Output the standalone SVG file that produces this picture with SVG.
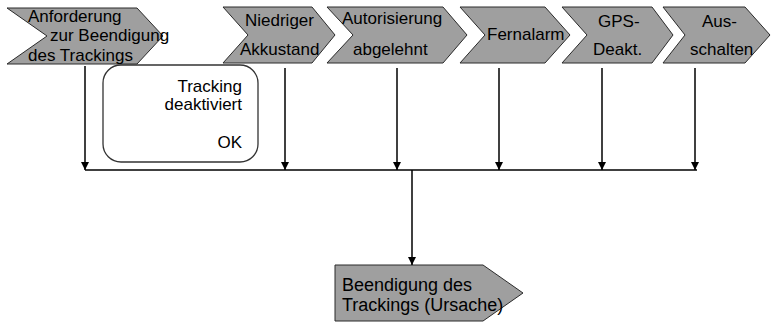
<svg xmlns="http://www.w3.org/2000/svg" width="772" height="323" viewBox="0 0 772 323">
<defs>
<style>
.chev{fill:#9f9f9f;stroke:#2a2a2a;stroke-width:1}
.t{font-family:"Liberation Sans",Arial,sans-serif;font-size:17px;fill:#000}
.b{font-size:18px}
.e{text-anchor:end}
.ln{stroke:#000;stroke-width:1.5;fill:none}
</style>
<marker id="ah" viewBox="0 0 10 10" refX="10" refY="5" markerWidth="9" markerHeight="8" markerUnits="userSpaceOnUse" orient="auto">
<path d="M0,0 L10,5 L0,10 Z" fill="#000"/>
</marker>
</defs>
<rect width="772" height="323" fill="#fff"/>
<g id="n1">
<polygon class="chev" points="7,8 137,8 163,36 137,64 7,64 47,36"/>
<text class="t" x="28" y="22">Anforderung</text>
<text class="t" x="50" y="41">zur Beendigung</text>
<text class="t" x="28" y="61">des Trackings</text>
</g>
<g id="n2">
<polygon class="chev" points="223,7 312,7 335,35 312,63 223,63 248,35"/>
<text class="t" x="245" y="26">Niedriger</text>
<text class="t" x="240" y="55">Akkustand</text>
</g>
<g id="n3">
<polygon class="chev" points="327,7 443,7 467,35 443,63 327,63 353,35"/>
<text class="t" x="342" y="24">Autorisierung</text>
<text class="t" x="353" y="55">abgelehnt</text>
</g>
<g id="n4">
<polygon class="chev" points="460,7 545,7 570,35 545,63 460,63 485,35"/>
<text class="t" x="487" y="40">Fernalarm</text>
</g>
<g id="n5">
<polygon class="chev" points="562,7 652,7 673,35 652,63 562,63 587,35"/>
<text class="t" x="598" y="27">GPS-</text>
<text class="t" x="593" y="55">Deakt.</text>
</g>
<g id="n6">
<polygon class="chev" points="663,7 745,7 770,35 745,63 663,63 685,35"/>
<text class="t" x="702" y="27">Aus-</text>
<text class="t" x="690" y="55">schalten</text>
</g>
<g id="note">
<rect x="103" y="65" width="155" height="97" rx="18" ry="18" fill="#fff" stroke="#333" stroke-width="1.3"/>
<text class="t e" x="242" y="92">Tracking</text>
<text class="t e" x="242" y="110">deaktiviert</text>
<text class="t e" x="242" y="148">OK</text>
</g>
<g id="n7">
<polygon class="chev" points="335,265 483,265 523,293 483,321 335,321"/>
<text class="t b" x="342" y="291">Beendigung des</text>
<text class="t b" x="342" y="311">Trackings (Ursache)</text>
</g>
<g id="connectors">
<line class="ln" x1="85" y1="170" x2="697" y2="170"/>
<line class="ln" x1="85" y1="66" x2="85" y2="170" marker-end="url(#ah)"/>
<line class="ln" x1="285" y1="68" x2="285" y2="170" marker-end="url(#ah)"/>
<line class="ln" x1="397" y1="68" x2="397" y2="170" marker-end="url(#ah)"/>
<line class="ln" x1="499" y1="68" x2="499" y2="170" marker-end="url(#ah)"/>
<line class="ln" x1="602" y1="68" x2="602" y2="170" marker-end="url(#ah)"/>
<line class="ln" x1="695" y1="68" x2="695" y2="170" marker-end="url(#ah)"/>
<line class="ln" x1="412" y1="170" x2="412" y2="265" marker-end="url(#ah)"/>
</g>
</svg>
